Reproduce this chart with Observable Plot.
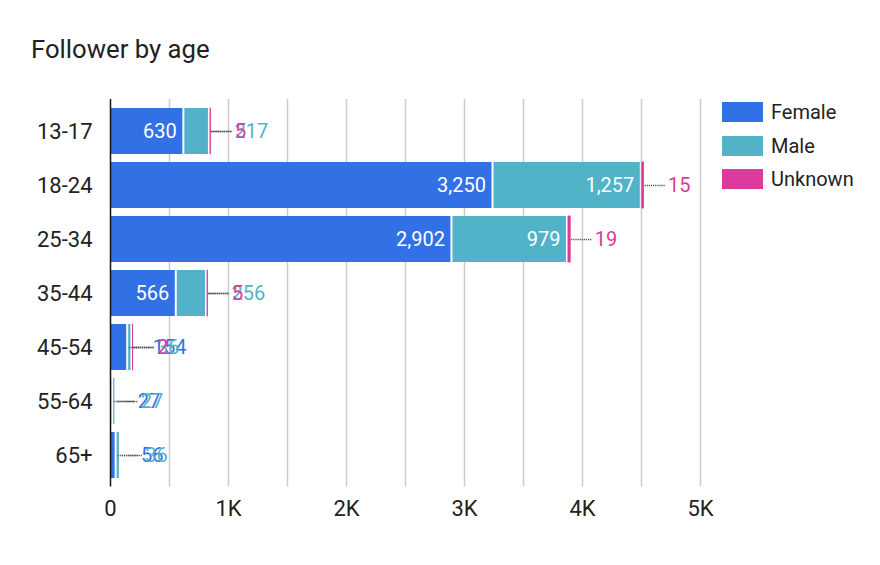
<!DOCTYPE html>
<html>
<head>
<meta charset="utf-8">
<script src="https://cdn.jsdelivr.net/npm/d3@7"></script>
<script src="https://cdn.jsdelivr.net/npm/@observablehq/plot@0.6"></script>
<style>
  body { margin: 0; background: #fff; font-family: Roboto, sans-serif; }
  #wrap { position: relative; width: 880px; height: 565px; }
  #title { position: absolute; left: 31px; top: 36px; font-size: 25.7px; line-height: 26px; color: #222; white-space: nowrap; }
  #legend { position: absolute; left: 722px; top: 102px; }
  .item { display: flex; align-items: center; height: 20px; margin-bottom: 13.7px; }
  .sw { width: 41px; height: 20px; margin-right: 8px; }
  .lab { font-size: 20px; color: #222; line-height: 20px; }
  #chart { position: absolute; left: 0; top: 0; }
</style>
</head>
<body>
<div id="wrap">
  <div id="chart"></div>
  <div id="title">Follower by age</div>
  <div id="legend"></div>
</div>
<script>
const ages = ["13-17", "18-24", "25-34", "35-44", "45-54", "55-64", "65+"];
const female = [630, 3250, 2902, 566, 154, 27, 56];
const male = [217, 1257, 979, 256, 36, 27, 36];
const unknown = [5, 15, 19, 5, 2, 0, 0];
const seriesNames = ["Female", "Male", "Unknown"];
const seriesColors = ["#3270e6", "#52b3c8", "#dd3a9e"];
const xTicks = [0, 1000, 2000, 3000, 4000, 5000];
const xTickLabels = ["0", "1K", "2K", "3K", "4K", "5K"];
const gridValues = [500, 1000, 1500, 2000, 2500, 3000, 3500, 4000, 4500, 5000];

const W = 880, H = 565;
const mL = 110, mR = 180, mT = 99, mB = 78.5;
const xMax = 5000;
const pxPerUnit = (W - mL - mR) / xMax;
const fmt = d3.format(",");

const seriesVals = [female, male, unknown];
const segs = [];
ages.forEach((age, i) => {
  let cum = 0;
  seriesNames.forEach((s, k) => {
    const v = seriesVals[k][i];
    const x1 = cum, x2 = cum + v;
    cum = x2;
    if (v <= 0) return;
    const label = fmt(v);
    const inside = v * pxPerUnit >= label.length * 11 + 16;
    segs.push({age, series: s, k, value: v, x1, x2, label, inside, color: seriesColors[k]});
  });
});
const insideSegs = segs.filter(d => d.inside);
const outsideSegs = segs.filter(d => !d.inside);

const chart = Plot.plot({
  width: W,
  height: H,
  marginLeft: mL,
  marginRight: mR,
  marginTop: mT,
  marginBottom: mB,
  style: {fontFamily: "Roboto, sans-serif", fontSize: "20px", color: "#222", background: "transparent"},
  x: {domain: [0, xMax], axis: null},
  y: {domain: ages, padding: 0.15, axis: null},
  marks: [
    Plot.ruleX(gridValues, {stroke: "#cccccc", strokeWidth: 1.5}),
    Plot.barX(segs.filter(d => d.k < 2), {x1: "x1", x2: "x2", y: "age", fill: d => d.color, insetRight: 2}),
    Plot.barX(segs.filter(d => d.k === 2), {x1: "x1", x2: "x2", y: "age", fill: d => d.color, stroke: d => d.color, strokeWidth: 0.8}),
    Plot.ruleX([0], {stroke: "#111", strokeWidth: 1.5}),
    Plot.text(insideSegs, {x: "x2", y: "age", text: "label", dx: -8, textAnchor: "end", fill: "white", fontSize: 20}),
    Plot.ruleY(outsideSegs, {y: "age", x1: "x2", x2: d => d.x2 + 21 / pxPerUnit, dx: 1, stroke: "#555", strokeWidth: 1.5, strokeDasharray: "1.2,0.9"}),
    Plot.text(outsideSegs, {x: "x2", y: "age", text: "label", dx: 24, textAnchor: "start", fill: d => d.color, fontSize: 20}),
    Plot.axisY({label: null, tickSize: 0, tickPadding: 18, fontSize: 22, fill: "#222"}),
    Plot.axisX(xTicks, {label: null, tickSize: 0, tickPadding: 13, fontSize: 22, fill: "#222", tickFormat: d => xTickLabels[xTicks.indexOf(d)]})
  ]
});
document.getElementById("chart").appendChild(chart);

const legend = document.getElementById("legend");
seriesNames.forEach((s, k) => {
  const item = document.createElement("div");
  item.className = "item";
  const sw = document.createElement("div");
  sw.className = "sw";
  sw.style.background = seriesColors[k];
  const lab = document.createElement("span");
  lab.className = "lab";
  lab.textContent = s;
  item.appendChild(sw);
  item.appendChild(lab);
  legend.appendChild(item);
});
</script>
</body>
</html>
